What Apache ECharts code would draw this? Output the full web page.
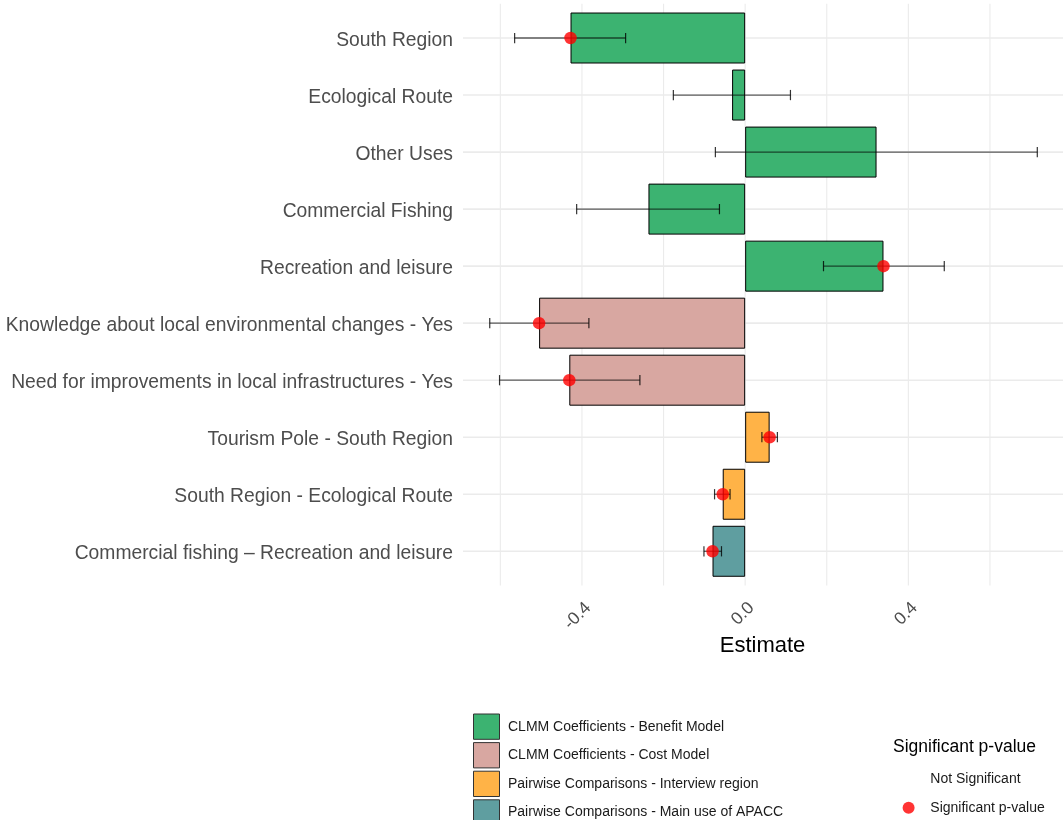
<!DOCTYPE html>
<html>
<head>
<meta charset="utf-8">
<script src="https://cdn.jsdelivr.net/npm/echarts@6/dist/echarts.min.js"></script>
<style>
  html, body { margin: 0; padding: 0; background: #ffffff; }
  #chart { width: 1063px; height: 820px; }
</style>
</head>
<body>
<div id="chart"></div>
<script>
// Model terms, top to bottom
const categories = [
  'South Region',
  'Ecological Route',
  'Other Uses',
  'Commercial Fishing',
  'Recreation and leisure',
  'Knowledge about local environmental changes - Yes',
  'Need for improvements in local infrastructures - Yes',
  'Tourism Pole - South Region',
  'South Region - Ecological Route',
  'Commercial fishing \u2013 Recreation and leisure'
];
// Which model / comparison each term belongs to (index into groupNames)
const groupOf = [0, 0, 0, 0, 0, 1, 1, 2, 2, 3];
const groupNames = [
  'CLMM Coefficients - Benefit Model',
  'CLMM Coefficients - Cost Model',
  'Pairwise Comparisons - Interview region',
  'Pairwise Comparisons - Main use of APACC'
];
const groupColors = ['#3CB371', '#D8A7A1', '#FFB347', '#5F9EA0'];

const estimates = [-0.428, -0.032, 0.322, -0.237, 0.339, -0.505, -0.431, 0.060, -0.055, -0.080];
const lowerCI   = [-0.565, -0.176, -0.073, -0.413, 0.192, -0.626, -0.602, 0.041, -0.075, -0.101];
const upperCI   = [-0.293, 0.111, 0.716, -0.063, 0.488, -0.383, -0.258, 0.079, -0.037, -0.058];
const significant = [1, 0, 0, 0, 1, 1, 1, 1, 1, 1];

const gridValues = [-0.6, -0.4, -0.2, 0, 0.2, 0.4, 0.6];
const tickLabels = [-0.4, 0, 0.4];

const xMin = -0.694, xMax = 0.779;
const FONT = "'Liberation Sans', Arial, sans-serif";

const chart = echarts.init(document.getElementById('chart'), null, { renderer: 'canvas' });

// one bar series per group, overlapping on the shared band
const barSeries = groupNames.map((name, g) => ({
  name: name,
  type: 'bar',
  barGap: '-100%',
  barWidth: '89.4%',
  z: 2,
  itemStyle: { color: groupColors[g], borderColor: '#000000', borderWidth: 1 },
  emphasis: { disabled: true },
  data: estimates.map((v, i) => (groupOf[i] === g ? v : '-'))
}));

const option = {
  animation: false,
  backgroundColor: '#ffffff',
  textStyle: { fontFamily: FONT },
  grid: { left: 462, right: 0, top: 9.5, bottom: 240.2, containLabel: false },
  title: {
    text: 'Significant p-value',
    left: 893, top: 738.5, padding: 0,
    textStyle: { fontFamily: FONT, fontSize: 17.5, fontWeight: 'normal', color: '#000000' }
  },
  legend: [
    {
      orient: 'vertical',
      left: 473, top: 713.5, padding: 0, height: 140,
      itemWidth: 26, itemHeight: 25.3, itemGap: 2.3,
      icon: 'rect',
      selectedMode: false,
      itemStyle: { borderWidth: 1, borderColor: '#333333' },
      textStyle: { fontFamily: FONT, fontSize: 14, color: '#1A1A1A', padding: [0, 0, 0, 3.5] },
      data: groupNames
    },
    {
      orient: 'vertical',
      left: 902.6, top: 771, padding: 0, height: 80,
      itemWidth: 33.4, itemHeight: 12, itemGap: 12.7,
      selectedMode: false,
      textStyle: { fontFamily: FONT, fontSize: 14, color: '#1A1A1A', lineHeight: 16 },
      data: ['Not Significant', 'Significant p-value']
    }
  ],
  xAxis: {
    type: 'value',
    min: xMin, max: xMax,
    name: 'Estimate',
    nameLocation: 'middle',
    nameGap: 55,
    nameMoveOverlap: false,
    nameTextStyle: { fontFamily: FONT, fontSize: 22, color: '#000000' },
    axisLine: { show: false },
    axisTick: { show: false },
    splitLine: { show: false },
    axisLabel: {
      customValues: tickLabels,
      rotate: 45,
      margin: 19,
      verticalAlign: 'top',
      fontFamily: FONT, fontSize: 17.5, color: '#4D4D4D',
      formatter: v => v.toFixed(1)
    }
  },
  yAxis: {
    type: 'category',
    data: categories,
    inverse: true,
    axisLine: { show: false },
    axisTick: { show: false },
    splitLine: { show: false },
    axisLabel: {
      margin: 9, verticalAlign: 'top', lineHeight: 5,
      fontFamily: FONT, fontSize: 19.3, color: '#4D4D4D'
    }
  },
  series: [
    // vertical grid lines, reaching 0.6 band beyond the outer categories
    {
      type: 'custom', name: 'vgrid', z: 0, silent: true, clip: false,
      encode: { x: 0 },
      data: gridValues.map(v => [v]),
      renderItem: (params, api) => {
        const v = api.value(0);
        const band = api.size([0, 1])[1];
        const top = api.coord([v, 0]);
        const bot = api.coord([v, categories.length - 1]);
        return {
          type: 'line',
          shape: { x1: top[0], y1: top[1] - 0.6 * band, x2: bot[0], y2: bot[1] + 0.6 * band },
          style: { stroke: '#EBEBEB', lineWidth: 1.1 }
        };
      }
    },
    // horizontal grid lines at each category centre
    {
      type: 'custom', name: 'hgrid', z: 0, silent: true, clip: false,
      encode: { y: 0 },
      data: categories.map((c, i) => [i]),
      renderItem: (params, api) => {
        const i = api.value(0);
        const a = api.coord([xMin, i]);
        const b = api.coord([xMax, i]);
        return {
          type: 'line',
          shape: { x1: a[0] + 1, y1: a[1], x2: b[0], y2: b[1] },
          style: { stroke: '#EBEBEB', lineWidth: 1.6 }
        };
      }
    },
    ...barSeries,
    // confidence intervals
    {
      type: 'custom', name: 'ci', z: 3, silent: true,
      encode: { y: 0, x: [1, 2] },
      data: categories.map((c, i) => [i, lowerCI[i], upperCI[i]]),
      renderItem: (params, api) => {
        const i = api.value(0);
        const p1 = api.coord([api.value(1), i]);
        const p2 = api.coord([api.value(2), i]);
        const h = api.size([0, 1])[1] * 0.09;
        const st = { stroke: 'rgba(0,0,0,0.62)', lineWidth: 1.3 };
        const cap = { stroke: 'rgba(0,0,0,0.8)', lineWidth: 1.2 };
        return {
          type: 'group',
          children: [
            { type: 'line', shape: { x1: p1[0], y1: p1[1], x2: p2[0], y2: p2[1] }, style: st },
            { type: 'line', shape: { x1: p1[0], y1: p1[1] - h, x2: p1[0], y2: p1[1] + h }, style: cap },
            { type: 'line', shape: { x1: p2[0], y1: p2[1] - h, x2: p2[0], y2: p2[1] + h }, style: cap }
          ]
        };
      }
    },
    {
      name: 'Not Significant',
      type: 'scatter', z: 4, silent: true,
      symbolSize: 12,
      itemStyle: { color: 'rgba(0,0,0,0)' },
      data: []
    },
    {
      name: 'Significant p-value',
      type: 'scatter', z: 4, silent: true,
      symbolSize: 12.5,
      itemStyle: { color: '#FF0000' },
      data: estimates.map((v, i) => (significant[i] ? [v, i] : null)).filter(d => d)
    }
  ]
};

chart.setOption(option);
</script>
</body>
</html>
